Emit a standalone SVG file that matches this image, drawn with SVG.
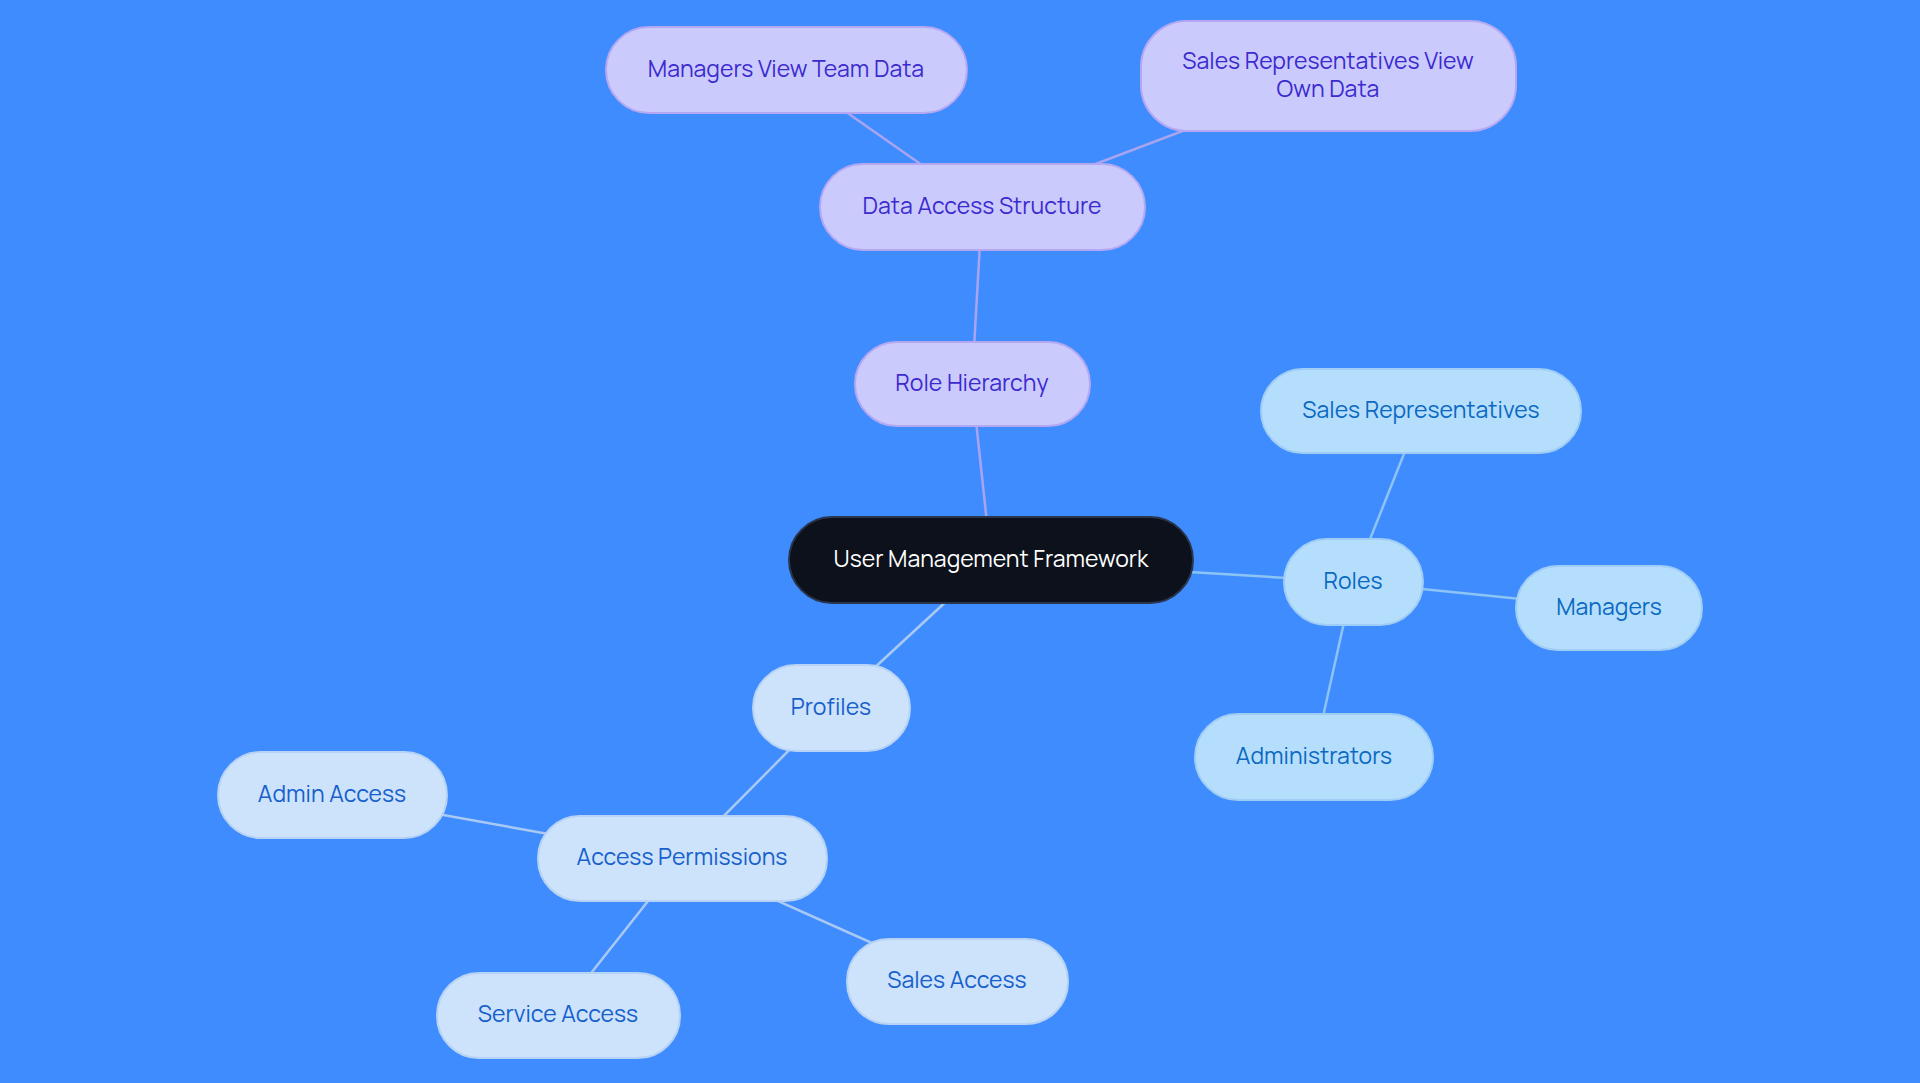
<svg xmlns="http://www.w3.org/2000/svg" width="1920" height="1083" viewBox="0 0 1920 1083">
<style>
.t{font-family:"Manrope","Inter","Liberation Sans",sans-serif;font-size:23px;text-anchor:middle;dominant-baseline:central}
.p rect{fill:#cbcafd;stroke:#b4a8f2;stroke-width:2}.p text{fill:#3b2bcf}
.r rect{fill:#b5defd;stroke:#9fcdf5;stroke-width:2}.r text{fill:#0b69c2}
.f rect{fill:#cde2fb;stroke:#b6d2f4;stroke-width:2}.f text{fill:#1560cc}
.e line{stroke-width:2.5}
</style>
<rect width="1920" height="1083" fill="#3f8cff"/>
<g id="connectors" class="e">
<line x1="991" y1="560" x2="972" y2="384" stroke="#a9a4ef"/>
<line x1="972" y1="384" x2="982" y2="207" stroke="#a9a4ef"/>
<line x1="982" y1="207" x2="786" y2="70" stroke="#a9a4ef"/>
<line x1="982" y1="207" x2="1328" y2="76" stroke="#a9a4ef"/>
<line x1="991" y1="560" x2="1353" y2="582" stroke="#8cc4f5"/>
<line x1="1353" y1="582" x2="1421" y2="411" stroke="#8cc4f5"/>
<line x1="1353" y1="582" x2="1609" y2="608" stroke="#8cc4f5"/>
<line x1="1353" y1="582" x2="1314" y2="757" stroke="#8cc4f5"/>
<line x1="991" y1="560" x2="831" y2="708" stroke="#a9c9f3"/>
<line x1="831" y1="708" x2="682" y2="858" stroke="#a9c9f3"/>
<line x1="682" y1="858" x2="332" y2="795" stroke="#a9c9f3"/>
<line x1="682" y1="858" x2="558" y2="1015" stroke="#a9c9f3"/>
<line x1="682" y1="858" x2="957" y2="981" stroke="#a9c9f3"/>
</g>
<g id="center"><rect x="789" y="517" width="404" height="86" rx="43" fill="#0c111b" stroke="#2a3550" stroke-width="2"/><text class="t" x="991" y="558" fill="#fff">User Management Framework</text></g>
<g id="rh" class="p"><rect x="855" y="342" width="235" height="84" rx="42"/><text class="t" x="972" y="382">Role Hierarchy</text></g>
<g id="das" class="p"><rect x="820" y="164" width="325" height="86" rx="43"/><text class="t" x="982" y="205">Data Access Structure</text></g>
<g id="mvtd" class="p"><rect x="606" y="27" width="361" height="86" rx="43"/><text class="t" x="786" y="68">Managers View Team Data</text></g>
<g id="srvod" class="p"><rect x="1141" y="21" width="375" height="110" rx="46"/><text class="t" x="1328" y="60">Sales Representatives View</text><text class="t" x="1328" y="88">Own Data</text></g>
<g id="roles" class="r"><rect x="1284" y="539" width="139" height="86" rx="43"/><text class="t" x="1353" y="580">Roles</text></g>
<g id="sr" class="r"><rect x="1261" y="369" width="320" height="84" rx="42"/><text class="t" x="1421" y="409">Sales Representatives</text></g>
<g id="mgr" class="r"><rect x="1516" y="566" width="186" height="84" rx="42"/><text class="t" x="1609" y="606">Managers</text></g>
<g id="adm" class="r"><rect x="1195" y="714" width="238" height="86" rx="43"/><text class="t" x="1314" y="755">Administrators</text></g>
<g id="prof" class="f"><rect x="753" y="665" width="157" height="86" rx="43"/><text class="t" x="831" y="706">Profiles</text></g>
<g id="ap" class="f"><rect x="538" y="816" width="289" height="85" rx="42"/><text class="t" x="682" y="856">Access Permissions</text></g>
<g id="aa" class="f"><rect x="218" y="752" width="229" height="86" rx="43"/><text class="t" x="332" y="793">Admin Access</text></g>
<g id="sva" class="f"><rect x="437" y="973" width="243" height="85" rx="42"/><text class="t" x="558" y="1013">Service Access</text></g>
<g id="saa" class="f"><rect x="847" y="939" width="221" height="85" rx="42"/><text class="t" x="957" y="979">Sales Access</text></g>
</svg>
